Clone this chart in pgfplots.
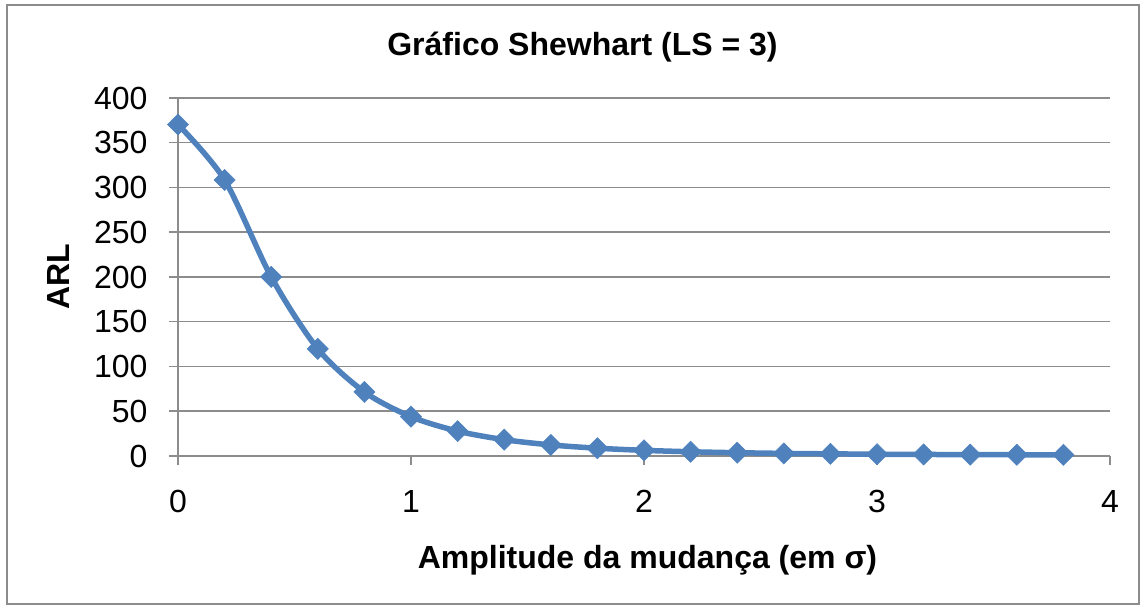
\documentclass[border=0pt]{standalone}
\usepackage{pgfplots}
\pgfplotsset{compat=1.18}
\usepackage{fontspec}
\setmainfont{Liberation Sans}
\definecolor{xlblue}{HTML}{4F81BD}
\definecolor{gridgray}{HTML}{8C8C8C}
\begin{document}
\begin{tikzpicture}[x=1bp,y=1bp]
\path[use as bounding box] (0,0) rectangle (1144,608);
\draw[gridgray,line width=2bp] (7,4) rectangle (1139,603);
\begin{axis}[
  at={(178bp,152bp)}, anchor=south west,
  scale only axis, width=932bp, height=358bp,
  xmin=0, xmax=4, ymin=0, ymax=400,
  xtick={0,1,2,3,4}, ytick={0,50,...,400},
  axis x line*=bottom, axis y line*=left,
  axis line style={gridgray,line width=1.5bp,-},
  ymajorgrids, grid style={gridgray,line width=1.5bp},
  tick align=outside, major tick length=9bp,
  tick style={gridgray,line width=1.5bp},
  /pgf/number format/assume math mode=true,
  ticklabel style={font=\fontsize{32bp}{38bp}\selectfont},
  yticklabel style={xshift=-18bp},
  xticklabel style={anchor=base, yshift=-48bp},
  title={Gráfico Shewhart (LS = 3)},
  title style={font=\fontsize{32bp}{38bp}\selectfont\bfseries, at={(axis description cs:0.434,1.1006)}, anchor=base},
  xlabel={Amplitude da mudança (em σ)},
  xlabel style={font=\fontsize{32bp}{38bp}\selectfont\bfseries, at={(axis description cs:0.5037,-0.3156)}, anchor=base},
  ylabel={ARL},
  ylabel style={font=\fontsize{32bp}{38bp}\selectfont\bfseries, at={(axis description cs:-0.1159,0.5)}, anchor=base},
  clip=false,
]
\addplot[xlblue, line width=5.5bp, smooth, tension=0.5, mark=square*, mark size=7.5bp, mark options={rotate=45, fill=xlblue, draw=xlblue, line width=0.5bp}] coordinates {
(0,370.4) (0.2,308.4) (0.4,200.1) (0.6,119.7) (0.8,71.6) (1.0,43.9)
(1.2,27.8) (1.4,18.25) (1.6,12.38) (1.8,8.69) (2.0,6.30) (2.2,4.72)
(2.4,3.65) (2.6,2.90) (2.8,2.38) (3.0,2.00) (3.2,1.73) (3.4,1.52)
(3.6,1.37) (3.8,1.26)
};
\end{axis}
\end{tikzpicture}
\end{document}
